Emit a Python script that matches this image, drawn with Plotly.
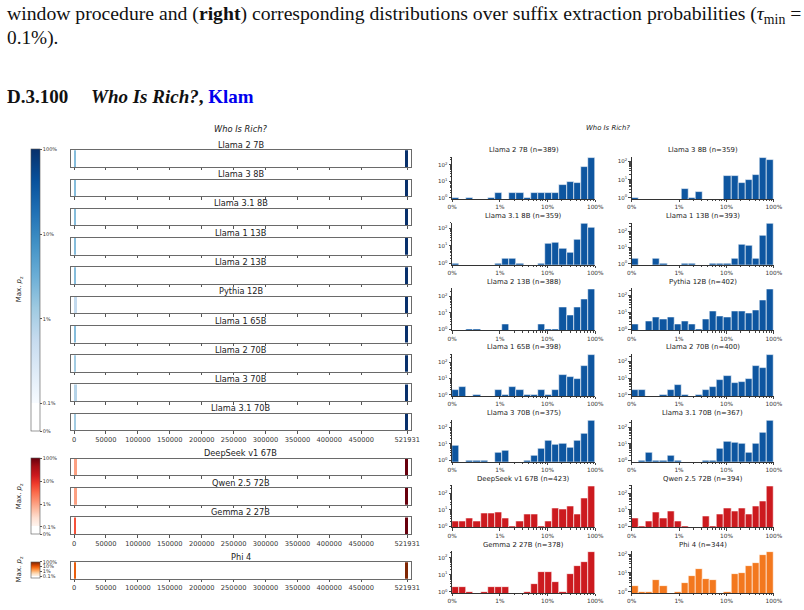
import math
import plotly.graph_objects as go

W, H = 804, 610

# ---------------- data ----------------
BOOK_LEN = 521931
strip_models = ["Llama 2 7B", "Llama 3 8B", "Llama 3.1 8B", "Llama 1 13B", "Llama 2 13B",
                "Pythia 12B", "Llama 1 65B", "Llama 2 70B", "Llama 3 70B", "Llama 3.1 70B",
                "DeepSeek v1 67B", "Qwen 2.5 72B", "Gemma 2 27B", "Phi 4"]
strip_family = ["blue"] * 10 + ["red"] * 3 + ["orange"]
# early hot-spot (start, end, max p_z) and final hot-spot (start, max p_z)
strip_left_start = [600] * 14
strip_left_end = [2000, 2000, 2000, 2000, 2000, 3200, 2000, 2000, 3200, 2000, 3200, 3200, 1800, 1800]
strip_left_pz = [0.02, 0.02, 0.02, 0.02, 0.02, 0.006, 0.02, 0.012, 0.008, 0.012, 0.01, 0.01, 0.05, 0.1]
strip_right_start = [518000] * 14
strip_right_pz = [1.0] * 14

x_tick_vals = [0, 50000, 100000, 150000, 200000, 250000, 300000, 350000, 400000, 450000, 521931]

hist_models = ["Llama 2 7B", "Llama 3 8B", "Llama 3.1 8B", "Llama 1 13B", "Llama 2 13B",
               "Pythia 12B", "Llama 1 65B", "Llama 2 70B", "Llama 3 70B", "Llama 3.1 70B",
               "DeepSeek v1 67B", "Qwen 2.5 72B", "Gemma 2 27B", "Phi 4"]
hist_n = [389, 359, 359, 393, 388, 402, 398, 400, 375, 367, 423, 394, 378, 344]
hist_family = ["blue"] * 10 + ["red", "red", "red", "orange"]
# 20 bins on the (0% .. 1% linear, 1% .. 100% log) scale
cnt_llama2_7b = [1, 0, 1, 0, 0, 1, 2, 0, 2, 2, 1, 2, 2, 2, 2, 6, 9, 8, 76, 272]
cnt_llama3_8b = [1, 0, 0, 0, 0, 0, 0, 3, 1, 2, 0, 0, 0, 17, 17, 7, 10, 18, 160, 123]
cnt_llama31_8b = [1, 0, 0, 0, 0, 0, 1, 2, 2, 1, 0, 0, 1, 13, 15, 7, 4, 22, 180, 110]
cnt_llama1_13b = [2, 0, 0, 2, 1, 0, 0, 1, 1, 0, 0, 1, 1, 1, 2, 15, 12, 2, 50, 302]
cnt_llama2_13b = [0, 0, 1, 1, 0, 0, 0, 2, 0, 0, 0, 0, 2, 1, 1, 22, 7, 22, 63, 266]
cnt_pythia_12b = [2, 0, 3, 5, 4, 5, 2, 3, 2, 1, 4, 12, 6, 5, 12, 11, 9, 14, 50, 232]
cnt_llama1_65b = [2, 3, 0, 1, 0, 0, 2, 1, 3, 2, 1, 1, 2, 1, 2, 16, 12, 9, 60, 280]
cnt_llama2_70b = [2, 2, 0, 0, 1, 2, 4, 1, 0, 1, 2, 3, 8, 14, 5, 6, 9, 55, 38, 247]
cnt_llama3_70b = [8, 0, 1, 1, 1, 0, 3, 4, 0, 0, 1, 2, 5, 15, 9, 10, 6, 15, 40, 254]
cnt_llama31_70b = [0, 1, 3, 1, 1, 2, 1, 0, 0, 0, 1, 1, 5, 13, 12, 11, 3, 11, 45, 256]
cnt_deepseek_67b = [2, 2, 3, 2, 6, 6, 7, 3, 1, 2, 5, 5, 1, 2, 13, 11, 16, 5, 50, 281]
cnt_qwen25_72b = [3, 1, 2, 7, 3, 8, 2, 1, 0, 0, 4, 1, 5, 12, 8, 12, 5, 16, 33, 271]
cnt_gemma2_27b = [2, 2, 1, 0, 1, 2, 2, 2, 0, 0, 1, 3, 14, 14, 4, 1, 11, 32, 60, 226]
cnt_phi4 = [2, 1, 1, 4, 2, 0, 1, 3, 7, 16, 5, 4, 0, 1, 9, 10, 23, 35, 90, 130]
hist_counts = [cnt_llama2_7b, cnt_llama3_8b, cnt_llama31_8b, cnt_llama1_13b, cnt_llama2_13b,
               cnt_pythia_12b, cnt_llama1_65b, cnt_llama2_70b, cnt_llama3_70b, cnt_llama31_70b,
               cnt_deepseek_67b, cnt_qwen25_72b, cnt_gemma2_27b, cnt_phi4]
hist_tick_labels = ["0%", "1%", "10%", "100%"]

# ---------------- styles ----------------
SCALES = {
    "blue": ['#f7fbff', '#deebf7', '#c6dbef', '#9ecae1', '#6baed6', '#4292c6', '#2171b5', '#08519c', '#08306b'],
    "red": ['#fff5f0', '#fee0d2', '#fcbba1', '#fc9272', '#fb6a4a', '#ef3b2c', '#cb181d', '#a50f15', '#67000d'],
    "orange": ['#fff5eb', '#fee6ce', '#fdd0a2', '#fdae6b', '#fd8d3c', '#f16913', '#d94801', '#a63603', '#7f2704'],
}
HIST_COLOR = {"blue": "#0e56a0", "red": "#cc1a1f", "orange": "#f3781e"}
LIN = 0.33
CMAX = LIN + 3


def cscale(name):
    cols = SCALES[name]
    lo = LIN / CMAX
    out = [[0, "#ffffff"], [lo * 0.999, "#ffffff"]]
    for i, c in enumerate(cols):
        out.append([lo + (1 - lo) * i / (len(cols) - 1), c])
    return out


def pz_to_c(p):
    if p < 0.001:
        return LIN * p / 0.001
    return LIN + math.log10(p / 0.001)


def X(px):
    return px / W


def Y(py):
    return 1 - py / H


fig = go.Figure()
layout = {}
annotations = []
FONT = "DejaVu Sans"


def note(x, y, text, size, family=FONT, xanchor="center", color="#222", angle=0):
    annotations.append(dict(x=X(x), y=Y(y), xref="paper", yref="paper", text=text,
                            showarrow=False, xanchor=xanchor, yanchor="middle", textangle=angle,
                            borderpad=0, font=dict(family=family, size=size, color=color)))


# ---------------- left: strips ----------------
strip_tops = [150 + 29.42 * k for k in range(10)] + [460, 489.5, 519, 564]
STRIP_H = 16.7
SX0, SX1 = 66.7, 413.3
px_per_unit = (409.3 - 70.3) / BOOK_LEN
xr = [-(70.3 - SX0) / px_per_unit, BOOK_LEN + (SX1 - 409.3) / px_per_unit]
show_labels = {9, 12, 13}
cbar_spec = {
    "blue": dict(top=150, bot=431.7, vals=[0, LIN, LIN + 1, LIN + 2, LIN + 3],
                 text=["0%", "0.1%", "1%", "10%", "100%"]),
    "red": dict(top=460, bot=535.7, vals=[0, LIN, LIN + 1, LIN + 2, LIN + 3],
                text=["0%", "0.1%", "1%", "10%", "100%"]),
    "orange": dict(top=564, bot=579.5, vals=[LIN, LIN + 1, LIN + 2, LIN + 3],
                   text=["0.1%", "1%", "10%", "100%"]),
}
shown = set()
for k, name in enumerate(strip_models):
    ax = k + 1
    fam = strip_family[k]
    top = strip_tops[k]
    xa, ya = f"xaxis{ax}", f"yaxis{ax}"
    layout[xa] = dict(domain=[X(SX0), X(SX1)], anchor=f"y{ax}", range=xr,
                      showline=True, mirror=True, linecolor="#6a6a6a", linewidth=0.9,
                      showgrid=False, zeroline=False, ticks="outside", ticklen=2.5,
                      tickcolor="#555", tickwidth=0.8,
                      tickvals=x_tick_vals, ticktext=[str(v) for v in x_tick_vals],
                      showticklabels=(k in show_labels),
                      tickfont=dict(family=FONT, size=6.7, color="#333"))
    layout[ya] = dict(domain=[Y(top + STRIP_H), Y(top)], anchor=f"x{ax}", range=[-0.5, 0.5],
                      showline=True, mirror=True, linecolor="#6a6a6a", linewidth=0.9,
                      showgrid=False, zeroline=False, showticklabels=False, ticks="")
    starts = [strip_left_start[k], strip_right_start[k]]
    ends = [strip_left_end[k], BOOK_LEN]
    vals = [pz_to_c(strip_left_pz[k]), pz_to_c(strip_right_pz[k])]
    marker = dict(color=vals, colorscale=cscale(fam), cmin=0, cmax=CMAX, line=dict(width=0))
    if fam not in shown:
        shown.add(fam)
        cs = cbar_spec[fam]
        marker["showscale"] = True
        marker["colorbar"] = dict(
            x=X(26), xanchor="left", y=Y((cs["top"] + cs["bot"]) / 2), yanchor="middle",
            len=cs["bot"] - cs["top"], lenmode="pixels", thickness=8.5, thicknessmode="pixels",
            xpad=0, ypad=0, outlinewidth=0.6, outlinecolor="#555",
            tickvals=cs["vals"], ticktext=cs["text"], ticks="outside", ticklen=2,
            tickcolor="#555", tickfont=dict(family=FONT, size=5, color="#333"))
    else:
        marker["showscale"] = False
    fig.add_trace(go.Bar(x=[e - s for s, e in zip(starts, ends)], base=starts, y=[0, 0],
                         orientation="h", width=1, marker=marker,
                         xaxis=f"x{ax}", yaxis=f"y{ax}", showlegend=False, hoverinfo="skip"))
    note((SX0 + SX1) / 2, top - 5.4, name, 8.2)

note(240, 129, "<i>Who Is Rich?</i>", 8.3)
for cy in [290, 498, 571.5]:
    note(14, cy, "Max. <i>p</i><sub>z</sub>", 7, angle=-90)

# ---------------- right: histograms ----------------
col_x = [(455, 600.7), (637.7, 782.5)]
centers = [0.15 * (i + 0.5) for i in range(20)]
for k, name in enumerate(hist_models):
    ax = 15 + k
    r, c = divmod(k, 2)
    x0, x1 = col_x[c]
    top = 156.7 + 66 * r
    bot = 199 + 66 * r
    cnts = hist_counts[k]
    L = math.log10(max(cnts))
    layout[f"xaxis{ax}"] = dict(domain=[X(x0), X(x1)], anchor=f"y{ax}", range=[0, 3],
                                showline=True, linecolor="#333", linewidth=0.8, showgrid=False,
                                zeroline=False, ticks="outside", ticklen=2.5, tickwidth=0.8,
                                tickvals=[0, 1, 2, 3], ticktext=hist_tick_labels,
                                tickfont=dict(family=FONT, size=5.8, color="#333"),
                                minor=dict(ticks="outside", ticklen=1.3, tickwidth=0.6,
                                           tickvals=[1 + math.log10(m) for m in range(2, 10)] +
                                                    [2 + math.log10(m) for m in range(2, 10)]))
    layout[f"yaxis{ax}"] = dict(domain=[Y(bot), Y(top)], anchor=f"x{ax}", type="log",
                                range=[-0.07, L + 0.05], showline=True, linecolor="#333",
                                linewidth=0.8, showgrid=False, zeroline=False, ticks="outside",
                                ticklen=2.5, tickwidth=0.8, tickvals=[1, 10, 100],
                                ticktext=["10<sup>0</sup>", "10<sup>1</sup>", "10<sup>2</sup>"],
                                tickfont=dict(family=FONT, size=5.5, color="#333"),
                                minor=dict(ticks="outside", ticklen=1.3, tickwidth=0.6,
                                           tickvals=[m * 10 ** e for e in range(0, 3) for m in range(2, 10)]))
    fig.add_trace(go.Bar(x=centers, y=[v if v > 0 else None for v in cnts], width=0.15,
                         marker=dict(color=HIST_COLOR[hist_family[k]],
                                     line=dict(color="rgba(255,255,255,0.85)", width=0.7)),
                         xaxis=f"x{ax}", yaxis=f"y{ax}", showlegend=False, hoverinfo="skip"))
    note((x0 + x1) / 2, top - 6.5, f"{name} (n={hist_n[k]})", 6.9)

note(614, 128, "<i>Who Is Rich?</i>", 6.9)

# ---------------- page text ----------------
SERIF = "Liberation Serif"
note(1, 14, "window procedure and (<b>right</b>) corresponding distributions over suffix "
            "extraction probabilities (<i>τ</i><sub>min</sub> =", 19.7, family=SERIF,
     xanchor="left", color="#111")
note(1, 37, "0.1%).", 19.3, family=SERIF, xanchor="left", color="#111")
note(1, 96, "<b>D.3.100</b>", 19, family=SERIF, xanchor="left", color="#111")
note(87, 96, "<b><i>Who Is Rich?</i></b><b>, </b><b><span style='color:#0000ee'>Klam</span></b>",
     19, family=SERIF, xanchor="left", color="#111")

fig.update_layout(width=W, height=H, margin=dict(l=0, r=0, t=0, b=0), paper_bgcolor="white",
                  plot_bgcolor="white", showlegend=False, bargap=0, annotations=annotations, **layout)
fig.write_html("out.html")
